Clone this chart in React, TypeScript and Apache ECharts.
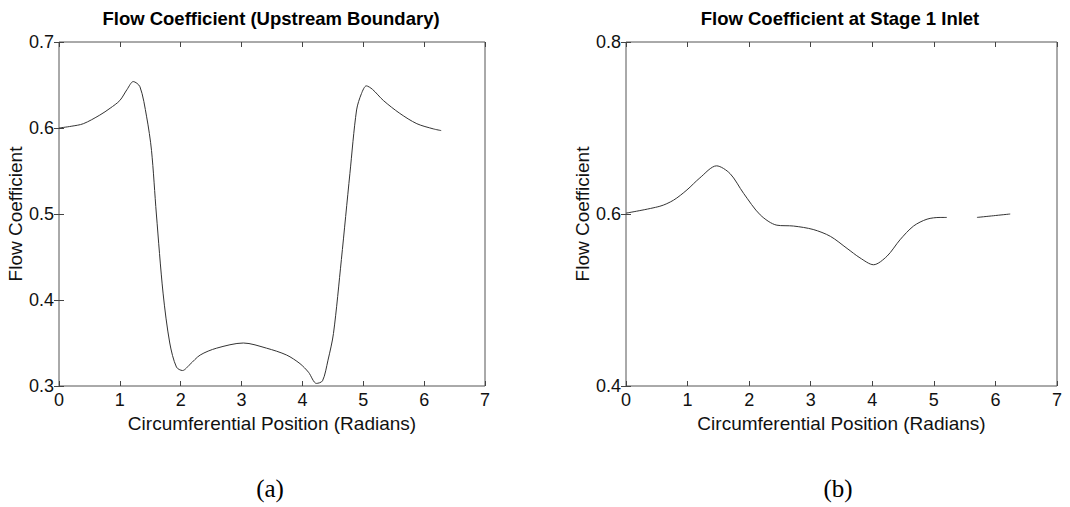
import React, { useEffect, useRef } from "react";
import * as echarts from "echarts";

const leftTitle = "Flow Coefficient (Upstream Boundary)";
const rightTitle = "Flow Coefficient at Stage 1 Inlet";
const xName = "Circumferential Position (Radians)";
const yName = "Flow Coefficient";
const captions = ["(a)", "(b)"];

const leftX = [0, 0.2, 0.4, 0.67, 0.84, 1.0, 1.12, 1.22, 1.33, 1.44, 1.52, 1.6, 1.71, 1.82, 1.93, 2.03, 2.15, 2.32, 2.59, 3.03, 3.41, 3.74, 3.96, 4.1, 4.23, 4.33, 4.42, 4.51, 4.64, 4.78, 4.89, 4.97, 5.05, 5.15, 5.33, 5.6, 5.88, 6.15, 6.28];
const leftY = [0.6, 0.602, 0.605, 0.615, 0.623, 0.632, 0.645, 0.654, 0.648, 0.613, 0.574, 0.5, 0.408, 0.35, 0.322, 0.318, 0.325, 0.336, 0.344, 0.35, 0.344, 0.336, 0.326, 0.316, 0.303, 0.306, 0.33, 0.361, 0.447, 0.547, 0.621, 0.64, 0.649, 0.645, 0.632, 0.617, 0.605, 0.599, 0.597];

const rightX = [0, 0.55, 0.77, 0.99, 1.2, 1.47, 1.69, 1.91, 2.18, 2.45, 2.72, 3.04, 3.32, 3.59, 3.8, 4.02, 4.24, 4.45, 4.67, 4.89, 5.1, 5.21, 5.45, 5.7, 5.97, 6.24];
const rightY: (number | null)[] = [0.601, 0.609, 0.616, 0.628, 0.642, 0.656, 0.647, 0.624, 0.599, 0.587, 0.586, 0.582, 0.574, 0.56, 0.549, 0.541, 0.551, 0.57, 0.586, 0.594, 0.596, 0.596, null, 0.596, 0.598, 0.6];

const xTicks = { min: 0, max: 7, interval: 1 };
const leftYTicks = { min: 0.3, max: 0.7, interval: 0.1 };
const rightYTicks = { min: 0.4, max: 0.8, interval: 0.2 };

const FONT = '"Liberation Sans", Arial, Helvetica, sans-serif';

export default function App() {
  const ref = useRef<HTMLDivElement>(null);
  useEffect(() => {
    if (!ref.current) return;
    const chart = echarts.init(ref.current, undefined, { renderer: "svg" });
    const grids = [
      { left: 59, top: 42, width: 426, height: 344 },
      { left: 626, top: 42, width: 431, height: 344 },
    ];
    const lineCol = "#444";
    const mkX = (gi: number, pos: "bottom" | "top", showLabel: boolean) => ({
      type: "value",
      gridIndex: gi,
      position: pos,
      ...xTicks,
      name: showLabel ? xName : "",
      nameLocation: "middle",
      nameGap: 24,
      nameTextStyle: { fontFamily: FONT, fontSize: 19, color: "#111" },
      axisLine: { show: false },
      axisTick: { show: true, inside: true, length: 5, lineStyle: { color: lineCol } },
      axisLabel: { show: showLabel, margin: 5, fontFamily: FONT, fontSize: 18, color: "#111", formatter: (v: number) => String(Math.round(v)) },
      splitLine: { show: false },
    });
    const mkY = (gi: number, pos: "left" | "right", showLabel: boolean, t: any, gap: number) => ({
      type: "value",
      gridIndex: gi,
      position: pos,
      ...t,
      name: showLabel ? yName : "",
      nameLocation: "middle",
      nameGap: gap,
      nameTextStyle: { fontFamily: FONT, fontSize: 19, color: "#111" },
      axisLine: { show: false },
      axisTick: { show: true, inside: true, length: 5, lineStyle: { color: lineCol } },
      axisLabel: { show: showLabel, margin: 5, fontFamily: FONT, fontSize: 18, color: "#111", formatter: (v: number) => v.toFixed(1) },
      splitLine: { show: false },
    });
    const mkData = (xs: number[], ys: (number | null)[]) => xs.map((x, i) => [x, ys[i] === null ? "-" : ys[i]]);
    const txt = (x: number, y: number, text: string, font: string) => ({
      type: "text",
      x,
      y,
      style: { text, font, fill: "#000", align: "center", verticalAlign: "middle", textAlign: "center", textVerticalAlign: "middle" },
    });
    chart.setOption({
      animation: false,
      backgroundColor: "#fff",
      grid: grids.map((g) => ({ ...g, show: true, borderColor: "#555", borderWidth: 1, backgroundColor: "transparent" })),
      xAxis: [mkX(0, "bottom", true), mkX(0, "top", false), mkX(1, "bottom", true), mkX(1, "top", false)],
      yAxis: [
        mkY(0, "left", true, leftYTicks, 31),
        mkY(0, "right", false, leftYTicks, 31),
        mkY(1, "left", true, rightYTicks, 30),
        mkY(1, "right", false, rightYTicks, 30),
      ],
      series: [
        {
          type: "line",
          xAxisIndex: 0,
          yAxisIndex: 0,
          data: mkData(leftX, leftY),
          smooth: 0.3,
          showSymbol: false,
          lineStyle: { color: "#333", width: 1 },
        },
        {
          type: "line",
          xAxisIndex: 2,
          yAxisIndex: 2,
          data: mkData(rightX, rightY),
          smooth: 0.3,
          connectNulls: false,
          showSymbol: false,
          lineStyle: { color: "#333", width: 1 },
        },
      ],
      graphic: [
        txt(271, 18, leftTitle, `bold 18.5px ${FONT}`),
        txt(840, 18, rightTitle, `bold 18.5px ${FONT}`),
        txt(270, 488, captions[0], `25px "Liberation Serif", "DejaVu Serif", serif`),
        txt(838, 488, captions[1], `25px "Liberation Serif", "DejaVu Serif", serif`),
      ],
    });
    return () => chart.dispose();
  }, []);
  return <div ref={ref} style={{ position: "fixed", left: 0, top: 0, width: 1070, height: 507, background: "#fff" }} />;
}
